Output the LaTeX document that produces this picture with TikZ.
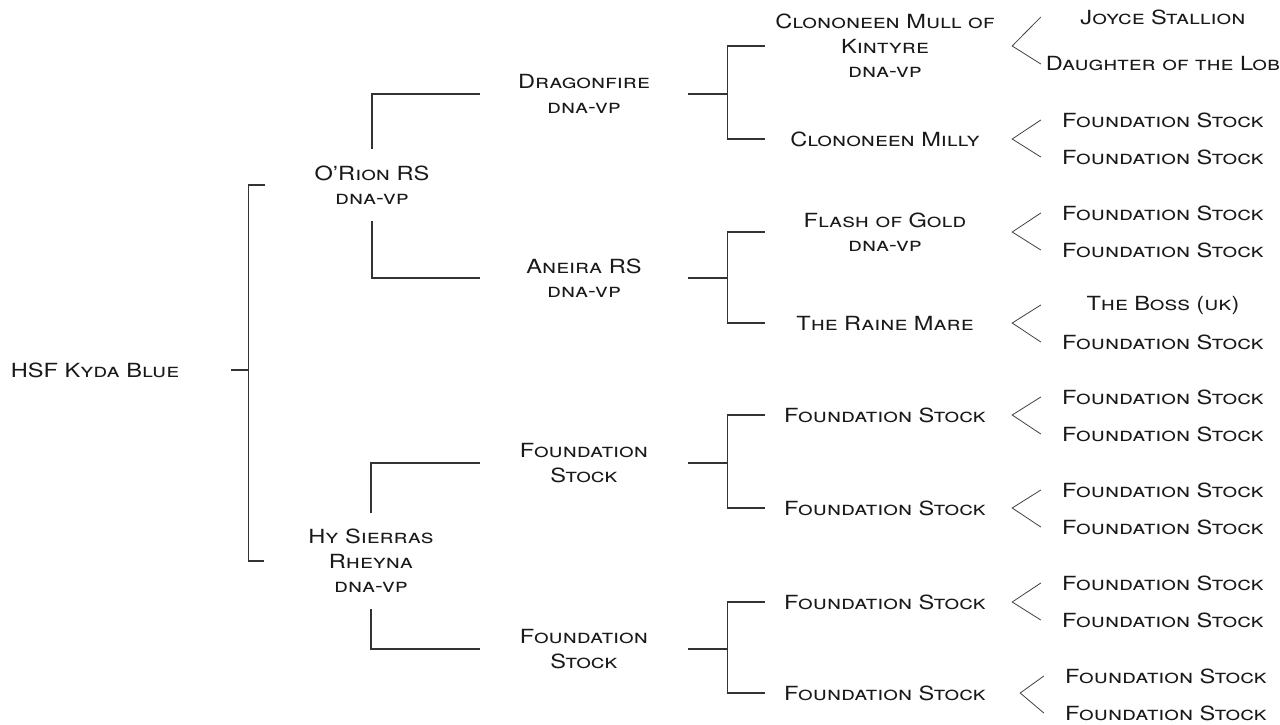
\documentclass[tikz,border=0pt]{standalone}
\usepackage{fontspec}
\setmainfont[FakeStretch=1.21]{TeX Gyre Heros}
\usepackage{tikz}
\usetikzlibrary{positioning}
\tikzstyle{line} = [draw, line width=1.1pt, black!80]
\tikzstyle{fork} = [draw, line width=0.8pt, black!75]

\begin{document}
\begin{tikzpicture}[x=1pt, y=-1pt,
    every node/.style={inner sep=0pt, align=center, text=black!90,
      font=\fontsize{19.5}{24.5}\selectfont\scshape},
    gen0/.style={text width=272pt},
    gen1/.style={text width=214pt},
    gen2/.style={text width=208pt},
    gen3/.style={text width=240pt},
    gen4/.style={text width=244pt}]
    \useasboundingbox (0,0) rectangle (1280,724);
    %% Horse
    \node[gen0] (kyda) at (95,370) {HSF Kyda Blue};
    %% Parents
    \node[gen1] (orion) at (372,185) {O’Rion RS\\dna-vp};
    \node[gen1] (hy) at (371,561) {Hy Sierras\\Rheyna\\dna-vp};
    %% Grandparents
    \node[gen2] (dragon) at (584,94) {Dragonfire\\dna-vp};
    \node[gen2] (aneira) at (584,278) {Aneira RS\\dna-vp};
    \node[gen2] (stockA) at (584,463) {Foundation\\Stock};
    \node[gen2] (stockB) at (584,649) {Foundation\\Stock};
    %% Great-grandparents
    \node[gen3] (mull) at (885,46) {Clononeen Mull of\\Kintyre\\dna-vp};
    \node[gen3] (milly) at (885,139) {Clononeen Milly};
    \node[gen3] (flash) at (885,232) {Flash of Gold\\dna-vp};
    \node[gen3] (raine) at (885,323) {The Raine Mare};
    \node[gen3] (stockC) at (885,415) {Foundation Stock};
    \node[gen3] (stockD) at (885,508) {Foundation Stock};
    \node[gen3] (stockE) at (885,602) {Foundation Stock};
    \node[gen3] (stockF) at (885,693) {Foundation Stock};
    %% Great-great-grandparents
    \node[gen4] (joyce) at (1163,17) {Joyce Stallion};
    \node[gen4] (lob) at (1163,64) {Daughter of the Lob};
    \node[gen4] (m1) at (1163,120) {Foundation Stock};
    \node[gen4] (m2) at (1163,157) {Foundation Stock};
    \node[gen4] (f1) at (1163,213) {Foundation Stock};
    \node[gen4] (f2) at (1163,250) {Foundation Stock};
    \node[gen4] (boss) at (1163,305) {The Boss (uk)};
    \node[gen4] (r2) at (1163,342) {Foundation Stock};
    \node[gen4] (c1) at (1163,397) {Foundation Stock};
    \node[gen4] (c2) at (1163,434) {Foundation Stock};
    \node[gen4] (d1) at (1163,490) {Foundation Stock};
    \node[gen4] (d2) at (1163,527) {Foundation Stock};
    \node[gen4] (e1) at (1163,583) {Foundation Stock};
    \node[gen4] (e2) at (1163,620) {Foundation Stock};
    \node[gen4] (g1) at (1166,676) {Foundation Stock};
    \node[gen4] (g2) at (1166,713) {Foundation Stock};
    %% Brackets
    \draw[line] (kyda.east) -- ++(17,0) coordinate (k0);
    \draw[line] (orion.west) -| (k0) |- (hy.west);
    \draw[line, shorten <=16pt] (orion.north) |- (dragon.west);
    \draw[line, shorten <=16pt] (orion.south) |- (aneira.west);
    \draw[line, shorten <=16pt] (hy.north) |- (stockA.west);
    \draw[line, shorten <=16pt] (hy.south) |- (stockB.west);
    \draw[line] (dragon.east) -- ++(39,0) coordinate (k1);
    \draw[line] (mull.west) -| (k1) |- (milly.west);
    \draw[line] (aneira.east) -- ++(39,0) coordinate (k2);
    \draw[line] (flash.west) -| (k2) |- (raine.west);
    \draw[line] (stockA.east) -- ++(39,0) coordinate (k3);
    \draw[line] (stockC.west) -| (k3) |- (stockD.west);
    \draw[line] (stockB.east) -- ++(39,0) coordinate (k4);
    \draw[line] (stockE.west) -| (k4) |- (stockF.west);
    %% Forks
    \draw[fork] (joyce.west) -- ([xshift=7pt]mull.east) -- (lob.west);
    \draw[fork] (m1.west) -- ([xshift=7pt]milly.east) -- (m2.west);
    \draw[fork] (f1.west) -- ([xshift=7pt]flash.east) -- (f2.west);
    \draw[fork] (boss.west) -- ([xshift=7pt]raine.east) -- (r2.west);
    \draw[fork] (c1.west) -- ([xshift=7pt]stockC.east) -- (c2.west);
    \draw[fork] (d1.west) -- ([xshift=7pt]stockD.east) -- (d2.west);
    \draw[fork] (e1.west) -- ([xshift=7pt]stockE.east) -- (e2.west);
    \draw[fork] (g1.west) -- ([xshift=15pt]stockF.east) -- (g2.west);
\end{tikzpicture}
\end{document}
